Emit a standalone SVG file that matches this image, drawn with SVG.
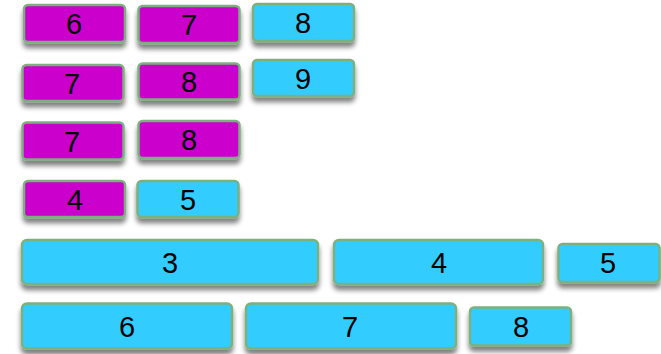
<svg xmlns="http://www.w3.org/2000/svg" width="661" height="354" viewBox="0 0 661 354">
<defs>
<filter id="sh" x="-10%" y="-20%" width="120%" height="160%">
<feGaussianBlur in="SourceAlpha" stdDeviation="2.5"/>
<feOffset dx="0" dy="5" result="b"/>
<feComponentTransfer><feFuncA type="linear" slope="0.5"/></feComponentTransfer>
<feMerge><feMergeNode/><feMergeNode in="SourceGraphic"/></feMerge>
</filter>
</defs>
<style>
rect{stroke:#7db07f;stroke-width:2.5;filter:url(#sh)}
.m{fill:#cc00cc}
.c{fill:#33ccff}
text{font-family:"Liberation Sans",Arial,sans-serif;font-size:29px;fill:#000;text-anchor:middle}
</style>
<g id="r1a"><rect class="m" x="24" y="5" width="101" height="37" rx="4"/><text x="74" y="34">6</text></g>
<g id="r1b"><rect class="m" x="138.5" y="6" width="101" height="37" rx="4"/><text x="189" y="35">7</text></g>
<g id="r1c"><rect class="c" x="253" y="4" width="101" height="37" rx="4"/><text x="303" y="33">8</text></g>
<g id="r2a"><rect class="m" x="22.5" y="65" width="101" height="36" rx="4"/><text x="72" y="94">7</text></g>
<g id="r2b"><rect class="m" x="138.5" y="63.5" width="101" height="36" rx="4"/><text x="189" y="92">8</text></g>
<g id="r2c"><rect class="c" x="253" y="60" width="101" height="36" rx="4"/><text x="303" y="89">9</text></g>
<g id="r3a"><rect class="m" x="22.5" y="122.5" width="101" height="37" rx="4"/><text x="72" y="152">7</text></g>
<g id="r3b"><rect class="m" x="138.5" y="121" width="101" height="37" rx="4"/><text x="189" y="150">8</text></g>
<g id="r4a"><rect class="m" x="24" y="181" width="101" height="36" rx="4"/><text x="75" y="210">4</text></g>
<g id="r4b"><rect class="c" x="137.5" y="181" width="101" height="36" rx="4"/><text x="188" y="210">5</text></g>
<g id="r5a"><rect class="c" x="22" y="240" width="296" height="44" rx="5"/><text x="170" y="273">3</text></g>
<g id="r5b"><rect class="c" x="334" y="240" width="209" height="44" rx="5"/><text x="439" y="273">4</text></g>
<g id="r5c"><rect class="c" x="558.5" y="244" width="101" height="38" rx="4"/><text x="608" y="273">5</text></g>
<g id="r6a"><rect class="c" x="22" y="303.5" width="210" height="45" rx="5"/><text x="127" y="337">6</text></g>
<g id="r6b"><rect class="c" x="246" y="303.5" width="210" height="45" rx="5"/><text x="350" y="337">7</text></g>
<g id="r6c"><rect class="c" x="470" y="307.5" width="101" height="38" rx="4"/><text x="521" y="337">8</text></g>
</svg>
